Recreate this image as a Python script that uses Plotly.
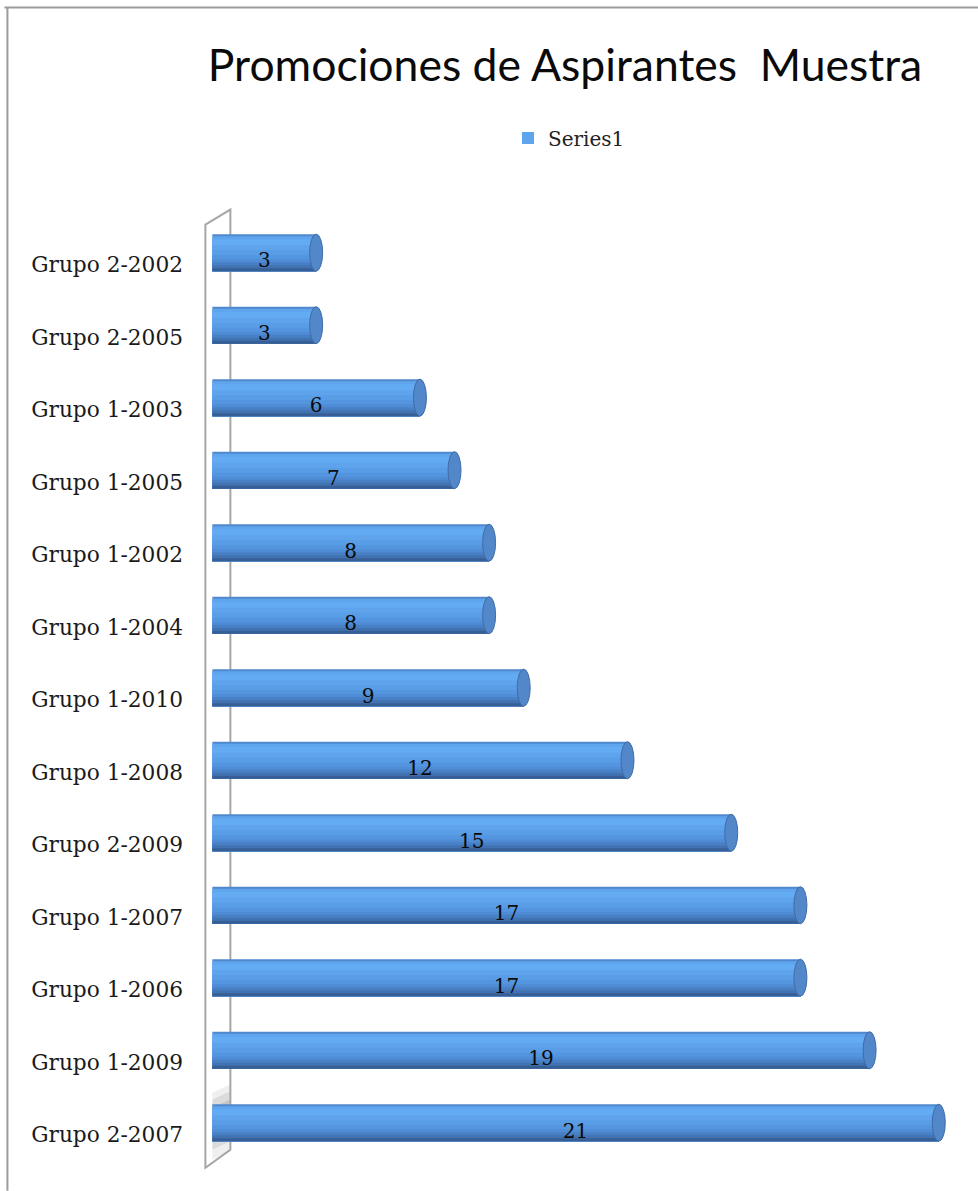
import plotly.graph_objects as go

# Chart data (top to bottom)
groups = [
    "Grupo 2-2002", "Grupo 2-2005", "Grupo 1-2003", "Grupo 1-2005",
    "Grupo 1-2002", "Grupo 1-2004", "Grupo 1-2010", "Grupo 1-2008",
    "Grupo 2-2009", "Grupo 1-2007", "Grupo 1-2006", "Grupo 1-2009",
    "Grupo 2-2007",
]
aspirantes = [3, 3, 6, 7, 8, 8, 9, 12, 15, 17, 17, 19, 21]
series_name = "Series1"
title_text = "Promociones de Aspirantes  Muestra"

# Figure geometry (pixels)
W, H = 978, 1191
PX_X = 34.6      # pixels per unit on the value axis
PX_Y = 72.5      # pixels per category step
X0_PX = 212      # pixel position of zero
Y0_PX = 265      # pixel position of the first category
x_range = [-0.3, 21.7]
y_range = [12.5, -0.85]
m_l = X0_PX + x_range[0] * PX_X
m_r = W - (X0_PX + x_range[1] * PX_X)
m_t = Y0_PX + y_range[1] * PX_Y
m_b = H - (Y0_PX + y_range[0] * PX_Y)

idx = list(range(len(groups)))

# Cylinder body shading: each layer starts at a pixel depth below the top
# edge and runs to the bottom, so later layers paint over the lower part.
BAR_H = 37
BAR_TOP = -(12 + BAR_H / 2) / PX_Y   # bar sits a little above the label line
layers = [
    (0, "#4f88cc"),
    (2, "#5ea5ee"),
    (5, "#63abf3"),
    (11, "#5ea3ec"),
    (16, "#599de7"),
    (21, "#5495df"),
    (25, "#4f8cd5"),
    (28, "#4880c5"),
    (31, "#4173b2"),
    (34, "#375f96"),
]
LEGEND_LAYER = 1

fig = go.Figure()
for i, (a, col) in enumerate(layers):
    fig.add_trace(go.Bar(
        x=aspirantes, y=idx, orientation="h",
        base=0,
        offset=BAR_TOP + a / PX_Y,
        width=(BAR_H - a) / PX_Y,
        marker=dict(color=col, line=dict(width=0)),
        name=series_name,
        showlegend=(i == LEGEND_LAYER),
        hoverinfo="skip",
    ))

# Value labels centred in each cylinder
fig.add_trace(go.Scatter(
    x=[v / 2 for v in aspirantes],
    y=[k - 0.03 for k in idx],
    mode="text",
    text=[str(v) for v in aspirantes],
    textfont=dict(family="DejaVu Serif", size=20, color="#0a0a0a"),
    showlegend=False, hoverinfo="skip",
))

shapes = []
# End caps of the cylinders
cap_w = 6.5 / PX_X
for k, v in zip(idx, aspirantes):
    shapes.append(dict(
        type="circle", xref="x", yref="y", layer="above",
        x0=v - cap_w, x1=v + cap_w,
        y0=k + BAR_TOP, y1=k + BAR_TOP + BAR_H / PX_Y,
        fillcolor="#5287c9", line=dict(color="#406ca7", width=1),
    ))

# Back wall of the 3-D plot
def wx(px):
    return (px - X0_PX) / PX_X

def wy(px):
    return (px - Y0_PX) / PX_Y

wall = (f"M {wx(205)},{wy(225)} L {wx(230)},{wy(210)} L {wx(230)},{wy(1150)} "
        f"L {wx(205)},{wy(1168)} Z")
shapes.append(dict(type="path", xref="x", yref="y", path=wall, layer="below",
                   fillcolor="rgba(255,255,255,0)",
                   line=dict(color="#a6a6a6", width=2)))
for (y_a, y_b, alpha) in [(1085, 1160, 0.12), (1092, 1150, 0.16), (1100, 1140, 0.22)]:
    shade = (f"M {wx(212)},{wy(y_a + 8)} L {wx(229)},{wy(y_a)} L {wx(229)},{wy(y_b - 8)} "
             f"L {wx(212)},{wy(y_b)} Z")
    shapes.append(dict(type="path", xref="x", yref="y", path=shade, layer="below",
                       fillcolor=f"rgba(120,120,120,{alpha})", line=dict(width=0)))

# Outer frame (top and left edges)
def px_x(px):
    return (px - m_l) / (W - m_l - m_r)

def px_y(py):
    return 1 - (py - m_t) / (H - m_t - m_b)

shapes.append(dict(type="line", xref="paper", yref="paper",
                   x0=px_x(4), x1=px_x(978), y0=px_y(8), y1=px_y(8),
                   line=dict(color="#9c9c9c", width=2)))
shapes.append(dict(type="line", xref="paper", yref="paper",
                   x0=px_x(7), x1=px_x(7), y0=px_y(8), y1=px_y(1191),
                   line=dict(color="#9c9c9c", width=2)))

fig.update_layout(
    width=W, height=H,
    margin=dict(l=m_l, r=m_r, t=m_t, b=m_b, pad=0),
    paper_bgcolor="white", plot_bgcolor="white",
    barmode="overlay",
    shapes=shapes,
    title=dict(
        text=title_text,
        font=dict(family="Lato", size=44.5, color="#0a0a0a"),
        x=565 / W, xanchor="center", xref="container",
        y=1 - 65 / H, yanchor="middle", yref="container",
    ),
    legend=dict(
        orientation="h",
        x=569 / W, xanchor="center", xref="container",
        y=1 - 138 / H, yanchor="middle", yref="container",
        font=dict(family="DejaVu Serif", size=20, color="#222222"),
        bgcolor="rgba(0,0,0,0)",
    ),
    xaxis=dict(range=x_range, visible=False, fixedrange=True),
    yaxis=dict(
        range=y_range, tickmode="array", tickvals=idx, ticktext=groups,
        showgrid=False, zeroline=False, showline=False, ticks="",
        ticklabelstandoff=18,
        tickfont=dict(family="DejaVu Serif", size=21.7, color="#1a1a1a"),
    ),
)

fig.write_html("out.html")
